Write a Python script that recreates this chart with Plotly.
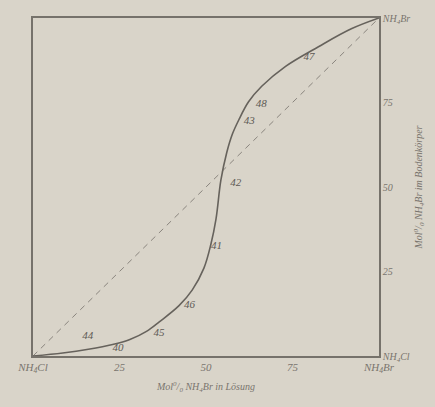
import plotly.graph_objects as go

# Solid S-curve: Mol% NH4Br in solution (x) vs. in solid phase (y)
curve_x = [0, 8.6, 16, 23, 28, 32.8, 36.5, 42.2, 46, 49.4, 51.4, 52.9, 54.3, 56.0, 57.6, 59.5, 62.3, 66.1, 73.0, 82.5, 92.0, 100]
curve_y = [0, 0.9, 2.0, 3.4, 4.9, 7.3, 10.1, 14.9, 19.5, 26.0, 33.0, 40.6, 52.0, 60.2, 65.6, 69.9, 75.2, 79.8, 85.7, 91.5, 96.8, 100]

# Dashed diagonal
diag_x = [0, 100]
diag_y = [0, 100]

# Point labels along the curve
label_text = ["44", "40", "45", "46", "41", "42", "43", "48", "47"]
label_x = [15.8, 24.6, 36.4, 45.2, 53.0, 58.6, 62.5, 66.0, 79.8]
label_y = [5.8, 2.4, 6.6, 15.0, 32.6, 51.0, 69.4, 74.6, 88.4]

x_tickvals = [0, 25, 50, 75, 100]
x_ticktext = ["NH<sub>4</sub>Cl", "25", "50", "75", "NH<sub>4</sub>Br"]
y_tickvals = [0, 25, 50, 75, 100]
y_ticktext = ["NH<sub>4</sub>Cl", "25", "50", "75", "NH<sub>4</sub>Br"]

paper = "#d9d4c9"
ink = "#66625c"
font_family = "Liberation Serif, DejaVu Serif, serif"

fig = go.Figure()
fig.add_trace(go.Scatter(x=diag_x, y=diag_y, mode="lines",
                         line=dict(color="#8a857e", width=1, dash="6px,5px"),
                         hoverinfo="skip", showlegend=False))
fig.add_trace(go.Scatter(x=curve_x, y=curve_y, mode="lines",
                         line=dict(color=ink, width=1.6, shape="spline", smoothing=1.0),
                         showlegend=False))
fig.add_trace(go.Scatter(x=label_x, y=label_y, mode="text", text=label_text,
                         textfont=dict(family=font_family, size=11, color="#5e5a55", style="italic"),
                         showlegend=False))

fig.update_layout(
    width=435, height=407,
    margin=dict(l=33, r=54, t=14, b=51),
    paper_bgcolor=paper, plot_bgcolor=paper,
    font=dict(family=font_family, color="#7a756e", style="italic"),
    xaxis=dict(range=[0, 100], tickvals=x_tickvals, ticktext=x_ticktext,
               showgrid=False, zeroline=False, showline=True, mirror=True,
               linecolor="#76726b", linewidth=1.5, ticks="",
               tickfont=dict(size=11, family=font_family, style="italic"),
               title=dict(text="Mol<sup>0</sup>/<sub>0</sub> NH<sub>4</sub>Br in Lösung",
                          font=dict(size=10, family=font_family, style="italic"), standoff=9)),
    yaxis=dict(range=[0, 100], tickvals=y_tickvals, ticktext=y_ticktext, side="right",
               showgrid=False, zeroline=False, showline=True, mirror=True,
               linecolor="#76726b", linewidth=1.5, ticks="",
               tickfont=dict(size=10, family=font_family, style="italic"),
               title=dict(text="Mol<sup>0</sup>/<sub>0</sub> NH<sub>4</sub>Br im Bodenkörper",
                          font=dict(size=10, family=font_family, style="italic"), standoff=6)),
)

fig.write_html("out.html")
